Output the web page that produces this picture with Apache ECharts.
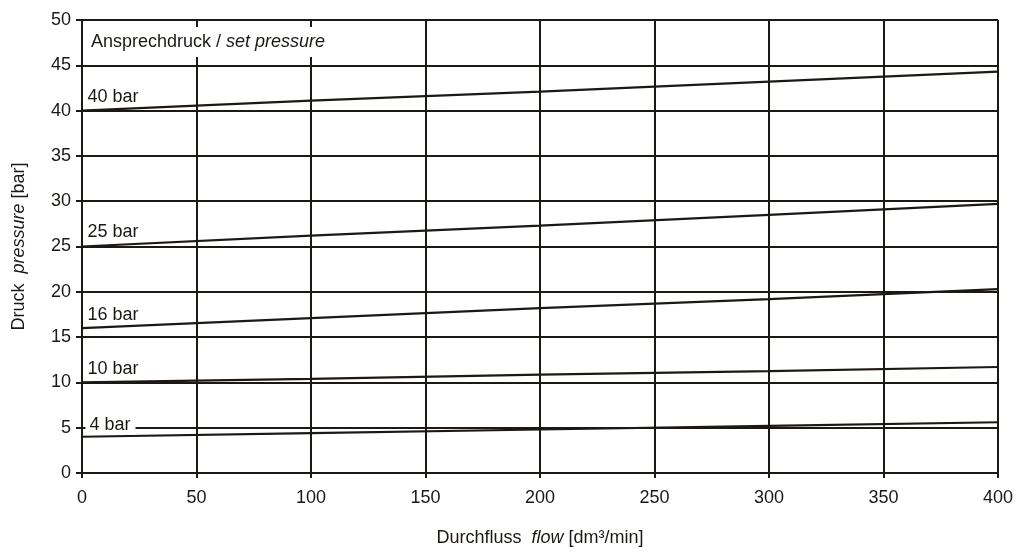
<!DOCTYPE html>
<html>
<head>
<meta charset="utf-8">
<script src="https://cdn.jsdelivr.net/npm/echarts@6/dist/echarts.min.js"></script>
<style>html,body{margin:0;padding:0;background:#fff;overflow:hidden}#c{width:1018px;height:552px}</style>
</head>
<body>
<div id="c"></div>
<script>
var flow = [0, 100, 200, 300, 400];
var s40 = [40, 41.1, 42.1, 43.2, 44.3];
var s25 = [25, 26.2, 27.3, 28.5, 29.7];
var s16 = [16, 17.1, 18.2, 19.2, 20.3];
var s10 = [10, 10.4, 10.85, 11.25, 11.7];
var s4 = [4, 4.4, 4.8, 5.2, 5.6];
var seriesNames = ['40 bar', '25 bar', '16 bar', '10 bar', '4 bar'];
var seriesVals = [s40, s25, s16, s10, s4];
var labelOffsets = [-14, -14, -13.5, -13.5, -12];

var ink = '#1c1816';
var font = 'Liberation Sans, Arial, Helvetica, sans-serif';
var fs = 18;

var series = seriesVals.map(function (vals, si) {
  var data = vals.map(function (v, i) {
    var item = { value: [flow[i], v] };
    if (i === 0) {
      var lbl = {
        show: true,
        formatter: seriesNames[si],
        position: 'right',
        distance: 5,
        offset: [0, labelOffsets[si]],
        color: ink,
        fontSize: fs,
        fontFamily: font
      };
      if (si === 4) {
        lbl.backgroundColor = '#fff';
        lbl.padding = [1, 5, 1, 4];
        lbl.offset = [-2, labelOffsets[si]];
      }
      item.label = lbl;
    }
    return item;
  });
  return {
    type: 'line',
    name: seriesNames[si],
    data: data,
    symbol: 'circle',
    symbolSize: 1,
    itemStyle: { color: ink },
    lineStyle: { color: ink, width: 2.2 },
    z: 3,
    animation: false
  };
});

var chart = echarts.init(document.getElementById('c'), null, { width: 1018, height: 552 });
chart.setOption({
  backgroundColor: '#fff',
  animation: false,
  title: {
    text: 'Ansprechdruck / {i|set pressure}',
    left: 84,
    top: 27,
    padding: [5, 8, 5, 7],
    backgroundColor: '#fff',
    textStyle: {
      fontSize: fs,
      fontWeight: 'normal',
      color: ink,
      fontFamily: font,
      lineHeight: 20,
      rich: { i: { fontStyle: 'italic', fontSize: fs, color: ink, fontFamily: font, lineHeight: 20 } }
    },
    z: 10
  },
  grid: { left: 82, right: 20, top: 20, bottom: 76, containLabel: false },
  xAxis: {
    type: 'value',
    min: 0, max: 400, interval: 50,
    name: 'Durchfluss  {i|flow} [dm³/min]',
    nameLocation: 'middle',
    nameGap: 56,
    nameTextStyle: {
      fontSize: fs, color: ink, fontFamily: font,
      rich: { i: { fontStyle: 'italic', fontSize: fs, color: ink, fontFamily: font } }
    },
    axisLine: { show: true, lineStyle: { color: ink, width: 2 } },
    axisTick: { show: true, length: 5, lineStyle: { color: ink, width: 2 } },
    axisLabel: { fontSize: fs, color: ink, fontFamily: font, margin: 16 },
    splitLine: { show: true, lineStyle: { color: ink, width: 2 } }
  },
  yAxis: {
    type: 'value',
    min: 0, max: 50, interval: 5,
    name: 'Druck  {i|pressure} [bar]',
    nameLocation: 'middle',
    nameGap: 54,
    nameRotate: 90,
    nameTextStyle: {
      fontSize: fs, color: ink, fontFamily: font,
      rich: { i: { fontStyle: 'italic', fontSize: fs, color: ink, fontFamily: font } }
    },
    axisLine: { show: true, lineStyle: { color: ink, width: 2 } },
    axisTick: { show: true, length: 6, lineStyle: { color: ink, width: 2 } },
    axisLabel: { fontSize: fs, color: ink, fontFamily: font, margin: 11 },
    splitLine: { show: true, lineStyle: { color: ink, width: 2 } }
  },
  series: series
});
</script>
</body>
</html>
